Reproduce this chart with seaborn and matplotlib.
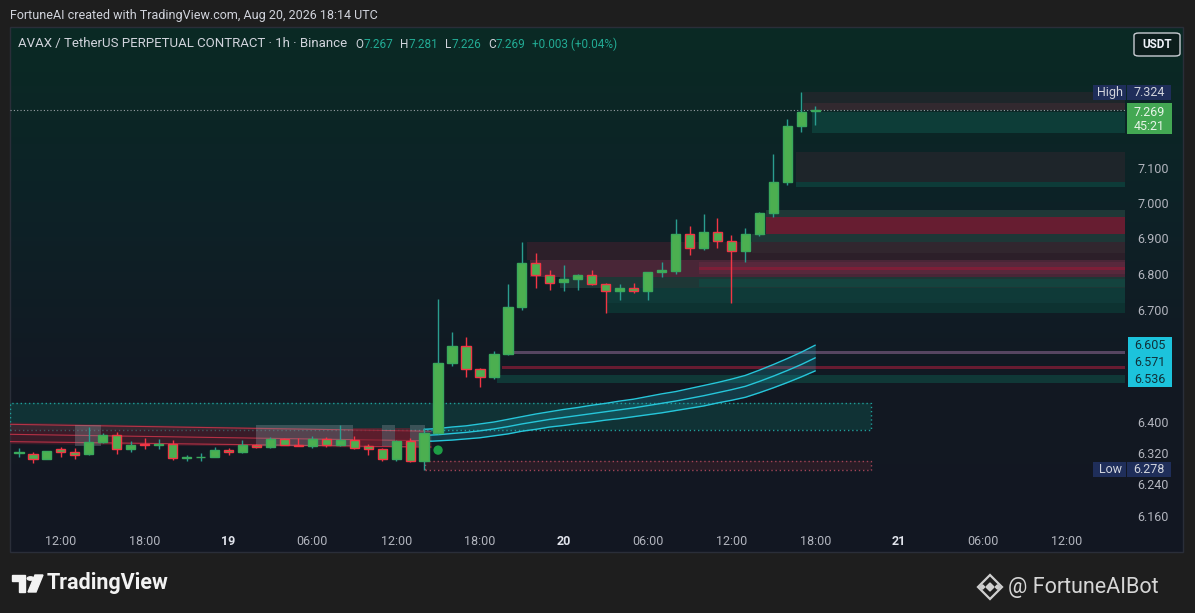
import numpy as np
import pandas as pd
import matplotlib
matplotlib.use("Agg")
import matplotlib.pyplot as plt
import seaborn as sns
from matplotlib.patches import Rectangle, FancyBboxPatch, Polygon, Circle
from matplotlib.colors import LinearSegmentedColormap

# === DATA ===
# hourly candles, hours counted from Aug 18 00:00 UTC (first bar 09:00)
first_hour = 9
opens = [6.320, 6.319, 6.306, 6.330, 6.322, 6.317, 6.348, 6.368, 6.331, 6.345,
         6.341, 6.343, 6.307, 6.309, 6.311, 6.328, 6.323, 6.342, 6.337, 6.357,
         6.342, 6.339, 6.358, 6.342, 6.354, 6.339, 6.331, 6.306, 6.351, 6.301,
         6.372, 6.556, 6.604, 6.540, 6.520, 6.582, 6.709, 6.829, 6.796, 6.778,
         6.787, 6.796, 6.773, 6.753, 6.762, 6.752, 6.804, 6.808, 6.913, 6.873,
         6.918, 6.892, 6.864, 6.913, 6.971, 7.059, 7.224, 7.267]
highs = [6.333, 6.322, 6.327, 6.335, 6.333, 6.388, 6.372, 6.376, 6.352, 6.360,
         6.358, 6.355, 6.315, 6.320, 6.336, 6.333, 6.354, 6.345, 6.363, 6.360,
         6.360, 6.365, 6.362, 6.392, 6.365, 6.345, 6.333, 6.355, 6.360, 6.386,
         6.732, 6.641, 6.628, 6.545, 6.590, 6.773, 6.890, 6.858, 6.810, 6.825,
         6.800, 6.812, 6.776, 6.772, 6.775, 6.806, 6.834, 6.953, 6.934, 6.968,
         6.956, 6.910, 6.928, 6.973, 7.141, 7.243, 7.324, 7.281]
lows = [6.310, 6.296, 6.304, 6.311, 6.306, 6.316, 6.346, 6.317, 6.323, 6.330,
        6.330, 6.302, 6.300, 6.300, 6.309, 6.315, 6.321, 6.333, 6.333, 6.340,
        6.338, 6.333, 6.335, 6.338, 6.330, 6.315, 6.300, 6.300, 6.298, 6.278,
        6.370, 6.550, 6.519, 6.493, 6.515, 6.578, 6.700, 6.762, 6.755, 6.752,
        6.756, 6.770, 6.691, 6.727, 6.746, 6.727, 6.790, 6.800, 6.852, 6.868,
        6.873, 6.720, 6.834, 6.905, 6.959, 7.050, 7.206, 7.226]
closes = [6.322, 6.306, 6.325, 6.323, 6.315, 6.348, 6.368, 6.331, 6.342, 6.341,
          6.343, 6.307, 6.309, 6.311, 6.328, 6.323, 6.340, 6.336, 6.357, 6.342,
          6.339, 6.358, 6.342, 6.354, 6.334, 6.331, 6.306, 6.351, 6.301, 6.372,
          6.556, 6.604, 6.540, 6.519, 6.582, 6.709, 6.829, 6.796, 6.775, 6.787,
          6.796, 6.773, 6.753, 6.762, 6.752, 6.804, 6.810, 6.913, 6.873, 6.918,
          6.892, 6.864, 6.913, 6.971, 7.059, 7.224, 7.266, 7.269]

# trend ribbon (from hour 38 to the last bar)
ribbon_upper = [6.382, 6.384, 6.388, 6.391, 6.396, 6.401, 6.408, 6.415, 6.422, 6.428,
                6.434, 6.439, 6.445, 6.450, 6.456, 6.461, 6.468, 6.475, 6.481, 6.489,
                6.497, 6.505, 6.514, 6.524, 6.538, 6.553, 6.569, 6.586, 6.605]
ribbon_mid = [6.366, 6.368, 6.371, 6.374, 6.378, 6.383, 6.389, 6.396, 6.402, 6.408,
              6.413, 6.418, 6.423, 6.428, 6.433, 6.438, 6.444, 6.450, 6.456, 6.463,
              6.470, 6.478, 6.486, 6.495, 6.508, 6.522, 6.537, 6.553, 6.571]
ribbon_lower = [6.350, 6.352, 6.354, 6.357, 6.360, 6.365, 6.370, 6.377, 6.382, 6.388,
                6.392, 6.397, 6.401, 6.406, 6.410, 6.415, 6.420, 6.425, 6.431, 6.437,
                6.443, 6.451, 6.458, 6.466, 6.478, 6.491, 6.505, 6.520, 6.536]

# zones that run to the right edge: (start hour, low, high, kind)
zones = [
    (65.1, 7.291, 7.324, "gray"),
    (65.1, 7.270, 7.291, "dotred"),
    (65.8, 7.202, 7.264, "teal"),
    (64.6, 7.059, 7.147, "gray"),
    (64.6, 7.045, 7.059, "teal"),
    (62.5, 6.959, 6.979, "tealgray"),
    (62.5, 6.913, 6.959, "red"),
    (61.5, 6.857, 6.913, "tealgray"),
    (45.4, 6.838, 6.890, "darkred"),
    (45.6, 6.790, 6.838, "redstripe"),
    (57.7, 6.800, 6.832, "redstripe"),
    (57.7, 6.812, 6.820, "red"),
    (47.7, 6.760, 6.790, "tealgray"),
    (57.7, 6.764, 6.786, "teal"),
    (51.1, 6.721, 6.760, "teal"),
    (51.1, 6.692, 6.721, "darkteal"),
    (43.9, 6.580, 6.588, "line"),
    (43.6, 6.542, 6.549, "red"),
    (43.2, 6.505, 6.526, "teal"),
]

# boxes with an end: (start hour, end hour, low, high)
demand_box = (8.36, 70.0, 6.379, 6.450)
supply_box = (38.1, 70.0, 6.276, 6.299)

# old down channel on the left
channel_hours = [8.36, 38.5]
channel_top = [6.401, 6.379]
channel_bottom = [6.345, 6.334]
channel_lines = [[6.395, 6.377], [6.369, 6.352], [6.350, 6.336]]
gray_spans = [(13.0, 14.9), (26.0, 32.9), (35.0, 35.9), (37.0, 38.1)]
red_spans = [(32.9, 35.0), (35.9, 37.0)]

signal_hour = 39
signal_price = 6.328

xtick_hours = [12, 18, 24, 30, 36, 42, 48, 54, 60, 66, 72, 78, 84]
xtick_labels = ["12:00", "18:00", "19", "06:00", "12:00", "18:00", "20",
                "06:00", "12:00", "18:00", "21", "06:00", "12:00"]
day_labels = ["19", "20", "21"]
ytick_values = [7.1, 7.0, 6.9, 6.8, 6.7, 6.4, 6.32, 6.24, 6.16]

countdown = "45:21"
title_text = "AVAX / TetherUS PERPETUAL CONTRACT · 1h · Binance"
caption_text = "FortuneAI created with TradingView.com, Aug 20, 2026 18:14 UTC"

df = pd.DataFrame({"hour": [first_hour + i for i in range(len(opens))],
                   "open": opens, "high": highs, "low": lows, "close": closes})
rib = pd.DataFrame({"hour": df["hour"].iloc[-len(ribbon_mid):].values,
                    "upper": ribbon_upper, "mid": ribbon_mid, "lower": ribbon_lower})

# === STYLE ===
sns.set_theme(style="dark")
plt.rcParams["font.family"] = ["Roboto", "DejaVu Sans"]

OUTER = "#1e1e1e"
TXT = "#d1d4dc"
AX_TXT = "#b2b5be"
GREEN = "#22ab94"
BODY = "#4caf50"
BULL_EDGE = "#3aa95c"
BULL_WICK = "#2a9d8f"
BEAR = "#f23645"
CYAN = "#26c6da"
NAVY = "#1f2e5a"
zone_style = {
    "gray": ("#22262b", 0.85),
    "dotred": ("#3a2a31", 0.85),
    "teal": ("#0f4a43", 0.65),
    "tealgray": ("#24403d", 0.75),
    "red": ("#8e1c37", 0.70),
    "darkred": ("#3a1f2c", 0.70),
    "redstripe": ("#5e2a3e", 0.75),
    "darkteal": ("#0d3a36", 0.75),
    "line": ("#5e4a68", 0.90),
}

W, H = 1195, 613
fx = lambda x: x / W
fy = lambda y: 1 - y / H

fig = plt.figure(figsize=(W / 100, H / 100), dpi=100)
fig.patch.set_facecolor(OUTER)

# panel with vertical gradient
bg = fig.add_axes([fx(10), fy(552), 1173 / W, 525 / H], zorder=-5)
grad = np.linspace(0, 1, 256)[:, None]
cmap = LinearSegmentedColormap.from_list("bg", ["#0a2a24", "#0d2227", "#121923", "#131722"])
bg.imshow(grad, aspect="auto", cmap=cmap, extent=[0, 1, 0, 1])
bg.axis("off")
fig.add_artist(Rectangle((fx(10), fy(552)), 1173 / W, 525 / H, transform=fig.transFigure,
                         fill=False, edgecolor="#2a2e39", linewidth=1, zorder=-4))

ax = fig.add_axes([fx(10), fy(528), 1115 / W, 501 / H])
ax.set_facecolor("none")
for s in ax.spines.values():
    s.set_visible(False)
ax.grid(False)
ax.set_yscale("log")
xmin, xmax = 8.36, 88.17
ax.set_xlim(xmin, xmax)
ax.set_ylim(6.130, 7.521)

# --- zones ---
for start, lo, hi, kind in zones:
    col, a = zone_style[kind]
    ax.fill_between([start, xmax], lo, hi, color=col, alpha=a, linewidth=0, zorder=1)

x0, x1, lo, hi = demand_box
ax.add_patch(Rectangle((x0, lo), x1 - x0, hi - lo, facecolor="#0f524e", alpha=0.45,
                       edgecolor="none", zorder=1.2))
ax.add_patch(Rectangle((x0, lo), x1 - x0, hi - lo, fill=False, edgecolor="#1f9e9a",
                       linestyle=(0, (1, 2)), linewidth=1, zorder=1.3))
x0, x1, lo, hi = supply_box
ax.add_patch(Rectangle((x0, lo), x1 - x0, hi - lo, facecolor="#3a2029", alpha=0.6,
                       edgecolor="none", zorder=1.2))
ax.add_patch(Rectangle((x0, lo), x1 - x0, hi - lo, fill=False, edgecolor="#a04456",
                       linestyle=(0, (1, 2)), linewidth=1, zorder=1.3))

# --- left channel ---
ax.fill_between(channel_hours, channel_bottom, channel_top, color="#5a1e2e", alpha=0.55,
                linewidth=0, zorder=1.5)
for ln in channel_lines:
    ax.plot(channel_hours, ln, color="#e0384f", lw=0.8, alpha=0.75, zorder=1.6)
for a0, a1 in gray_spans:
    ax.fill_between([a0, a1], 6.338, 6.392, color="#8a9098", alpha=0.35, linewidth=0, zorder=1.7)
for a0, a1 in red_spans:
    ax.fill_between([a0, a1], 6.340, 6.386, color="#7a1f30", alpha=0.55, linewidth=0, zorder=1.7)

# --- ribbon ---
ax.fill_between(rib["hour"], rib["lower"], rib["upper"], color="#1aa3b5", alpha=0.25,
                linewidth=0, zorder=3)
for col in ["upper", "mid", "lower"]:
    sns.lineplot(data=rib, x="hour", y=col, ax=ax, color=CYAN, lw=1.0, zorder=3.2)

# --- current price line ---
ax.axhline(closes[-1], color="#9aa0a6", ls=(0, (1, 2)), lw=0.8, zorder=2)

# --- candles ---
bull = df["close"] >= df["open"]
wick_cols = np.where(bull, BULL_WICK, BEAR)
edge_cols = np.where(bull, BULL_EDGE, BEAR)
ax.vlines(df["hour"], df["low"], df["high"], colors=wick_cols, lw=1.0, zorder=4)
bottoms = np.minimum(df["open"], df["close"])
heights = np.maximum((df["close"] - df["open"]).abs(), 0.0025)
ax.bar(df["hour"], heights, bottom=bottoms, width=0.66, color=BODY, edgecolor=edge_cols,
       linewidth=1.0, zorder=5)

sns.scatterplot(x=[signal_hour], y=[signal_price], ax=ax, color="#1e9e45", s=45,
                edgecolor="none", zorder=6)

# --- axes ---
ax.set_xlabel("")
ax.set_ylabel("")
ax.set_xticks(xtick_hours)
ax.set_xticklabels(xtick_labels)
ax.yaxis.tick_right()
ax.yaxis.set_minor_locator(matplotlib.ticker.NullLocator())
ax.set_yticks(ytick_values)
ax.set_yticklabels([f"{v:.3f}" for v in ytick_values])
ax.tick_params(axis="y", length=0, pad=9, labelsize=9, colors=AX_TXT)
ax.tick_params(axis="x", length=0, pad=5, labelsize=9, colors=AX_TXT)
for t in ax.get_xticklabels():
    if t.get_text() in day_labels:
        t.set_fontweight("bold")
        t.set_color("#e0e3eb")

# --- price tags (figure pixels) ---
def price_py(p):
    return H - ax.transData.transform((xmin, p))[1]

def box(x0, x1, y0, y1, face, z=3):
    fig.add_artist(Rectangle((fx(x0), fy(y1)), (x1 - x0) / W, (y1 - y0) / H,
                             transform=fig.transFigure, facecolor=face, edgecolor="none", zorder=z))

hy = price_py(max(highs))
box(1093, 1126, hy - 7.5, hy + 7.5, NAVY)
box(1127, 1171, hy - 7.5, hy + 7.5, NAVY)
fig.text(fx(1110), fy(hy), "High", ha="center", va="center", fontsize=9, color=TXT, zorder=4)
fig.text(fx(1149), fy(hy), f"{max(highs):.3f}", ha="center", va="center", fontsize=9, color=TXT, zorder=4)

cy = price_py(closes[-1])
box(1127, 1172, cy - 7, cy + 24, "#43a853")
fig.text(fx(1149), fy(cy + 2), f"{closes[-1]:.3f}", ha="center", va="center", fontsize=9,
         color="#e6f4e7", zorder=4)
fig.text(fx(1149), fy(cy + 16), countdown, ha="center", va="center", fontsize=9,
         color="#e6f4e7", zorder=4)

tags = [ribbon_upper[-1], ribbon_mid[-1], ribbon_lower[-1]]
t0 = price_py(tags[0])
box(1128, 1172, t0 - 8, t0 + 42, "#1cc3dc")
for i, v in enumerate(tags):
    fig.text(fx(1150), fy(t0 + 17 * i), f"{v:.3f}", ha="center", va="center",
             fontsize=9, color="#10313a", zorder=4)

ly = price_py(min(lows))
box(1093, 1126, ly - 7.5, ly + 7.5, NAVY)
box(1127, 1171, ly - 7.5, ly + 7.5, NAVY)
fig.text(fx(1110), fy(ly), "Low", ha="center", va="center", fontsize=9, color=TXT, zorder=4)
fig.text(fx(1149), fy(ly), f"{min(lows):.3f}", ha="center", va="center", fontsize=9, color=TXT, zorder=4)

# --- header ---
renderer = fig.canvas.get_renderer()
chg = closes[-1] - closes[-2]
parts = [(title_text, TXT, 8, 9.5)]
for k, v in zip(["O", "H", "L", "C"], [opens[-1], highs[-1], lows[-1], closes[-1]]):
    parts += [(k, TXT, 0, 8.5), (f"{v:.3f}", GREEN, 7, 8.5)]
parts += [(f"{chg:+.3f} ({chg / closes[-2] * 100:+.2f}%)", GREEN, 0, 8.5)]
xx = 18
for s, c, gap, fs in parts:
    t = fig.text(fx(xx), fy(44), s, ha="left", va="center", fontsize=fs, color=c)
    xx += t.get_window_extent(renderer).width + gap

fig.add_artist(FancyBboxPatch((fx(1134), fy(56)), 46 / W, 23 / H, transform=fig.transFigure,
                              boxstyle="round,pad=0,rounding_size=0.004", facecolor="#0c1d1c",
                              edgecolor="#c9ccd3", linewidth=1))
fig.text(fx(1157), fy(44.5), "USDT", ha="center", va="center", fontsize=8.5, color="#f0f3fa",
         fontweight="bold")

fig.text(fx(10), fy(16), caption_text, ha="left", va="center", fontsize=9, color=TXT)

# --- footer ---
def pxpoly(pts, **kw):
    fig.add_artist(Polygon([(fx(a), fy(b)) for a, b in pts], closed=True,
                           transform=fig.transFigure, **kw))

logo = "#f2f2f2"
pxpoly([(12, 575), (25, 575), (25, 592), (19, 592), (19, 581), (12, 581)], color=logo)
fig.add_artist(Circle((fx(30.5), fy(578.5)), 3.3 / W, transform=fig.transFigure, color=logo))
pxpoly([(35, 575), (43, 575), (36, 592), (28, 592)], color=logo)
fig.text(fx(47), fy(583), "TradingView", ha="left", va="center", fontsize=15.5,
         fontweight="bold", color=logo)

bc, by = 990, 587
pxpoly([(bc, by - 12), (bc + 12, by), (bc, by + 12), (bc - 12, by)], fill=False,
       edgecolor="#cfcfcf", linewidth=1.6)
pxpoly([(bc, by - 4), (bc + 4, by), (bc, by + 4), (bc - 4, by)], color="#cfcfcf")
for dx in (-7.5, 7.5):
    pxpoly([(bc + dx, by - 2.2), (bc + dx + 2.2, by), (bc + dx, by + 2.2), (bc + dx - 2.2, by)],
           color="#cfcfcf")
fig.text(fx(1008), fy(587), "@ FortuneAIBot", ha="left", va="center", fontsize=15.5,
         color="#d6d6d6")

plt.savefig("out.png", dpi=100, facecolor=OUTER)
plt.close()
